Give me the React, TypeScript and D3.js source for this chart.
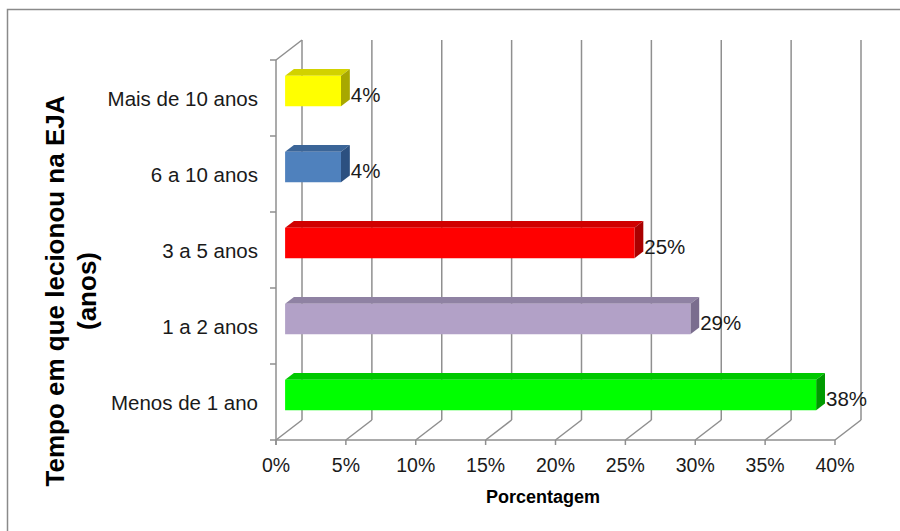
import React from "react";
import * as d3 from "d3";

// Tempo em que lecionou na EJA — distribuição percentual
const categories = ["Mais de 10 anos", "6 a 10 anos", "3 a 5 anos", "1 a 2 anos", "Menos de 1 ano"];
const values = [4, 4, 25, 29, 38];
const valueLabels = ["4%", "4%", "25%", "29%", "38%"];
const tickValues = [0, 5, 10, 15, 20, 25, 30, 35, 40];
const tickLabels = ["0%", "5%", "10%", "15%", "20%", "25%", "30%", "35%", "40%"];

// front / top / side shades for each bar
const barColors = [
  { front: "#FFFF00", top: "#D2D200", side: "#A8A800" },
  { front: "#4F81BD", top: "#3B6598", side: "#2C5080" },
  { front: "#FF0000", top: "#D00000", side: "#AA0000" },
  { front: "#B2A1C7", top: "#8F82A3", side: "#7A6D8E" },
  { front: "#00FF00", top: "#00C800", side: "#009A00" },
];

const W = 900;
const H = 531;
const FONT = "'Liberation Sans', Arial, sans-serif";

// 3D box layout: front plane of the plot and the depth offset to the back wall
const plotTop = 60;
const plotBottom = 440;
const depthX = 26;
const depthY = -20;
const barT0 = 0.35;
const barT1 = 0.69;

export default function App() {
  const x = d3.scaleLinear().domain([0, 40]).range([276, 835]);
  const y = d3
    .scaleBand<string>()
    .domain(categories)
    .range([plotTop, plotBottom])
    .paddingInner(0.6)
    .paddingOuter(0.3);

  const proj = (v: number, yy: number, t: number): [number, number] => [
    x(v) + depthX * t,
    yy + depthY * t,
  ];
  const pts = (arr: [number, number][]) => arr.map((p) => p.join(",")).join(" ");

  const gridColor = "#8f8f8f";
  const step = (plotBottom - plotTop) / categories.length;
  const slotEdges = d3.range(categories.length + 1).map((i) => plotTop + i * step);

  return (
    <svg
      width={W}
      height={H}
      style={{ position: "absolute", left: 0, top: 0, background: "#fff" }}
      fontFamily={FONT}
    >
      {/* outer frame */}
      <rect x={7.5} y={9.5} width={W + 20} height={H + 20} fill="none" stroke="#8a8a8a" strokeWidth={1.5} />

      {/* back wall gridlines and floor diagonals */}
      {tickValues.map((v) => {
        const [bx, byTop] = proj(v, plotTop, 1);
        const [, byBot] = proj(v, plotBottom, 1);
        return (
          <g key={v} stroke={gridColor} strokeWidth={1.5} fill="none">
            <line x1={bx} y1={byTop} x2={bx} y2={byBot} />
            <line x1={x(v)} y1={plotBottom} x2={bx} y2={byBot} />
          </g>
        );
      })}

      {/* left wall */}
      <g stroke={gridColor} strokeWidth={1.5} fill="none">
        <line x1={x(0)} y1={plotTop} x2={x(0)} y2={plotBottom + 5} />
        <line x1={x(0)} y1={plotTop} x2={proj(0, plotTop, 1)[0]} y2={proj(0, plotTop, 1)[1]} />
        <line x1={x(0)} y1={plotBottom} x2={x(40)} y2={plotBottom} />
        {slotEdges.map((e) => (
          <line key={e} x1={x(0) - 6} y1={e} x2={x(0)} y2={e} />
        ))}
        {tickValues.map((v) => (
          <line key={v} x1={x(v)} y1={plotBottom} x2={x(v)} y2={plotBottom + 5} />
        ))}
      </g>

      {/* bars */}
      {categories.map((c, i) => {
        const v = values[i];
        const y0 = y(c)!;
        const y1 = y0 + y.bandwidth();
        const col = barColors[i];
        const front = pts([proj(0, y0, barT0), proj(v, y0, barT0), proj(v, y1, barT0), proj(0, y1, barT0)]);
        const top = pts([proj(0, y0, barT0), proj(v, y0, barT0), proj(v, y0, barT1), proj(0, y0, barT1)]);
        const side = pts([proj(v, y0, barT0), proj(v, y0, barT1), proj(v, y1, barT1), proj(v, y1, barT0)]);
        const [lx] = proj(v, y0, barT1);
        const [, ly] = proj(v, (y0 + y1) / 2, barT0);
        return (
          <g key={c}>
            <polygon points={top} fill={col.top} />
            <polygon points={side} fill={col.side} />
            <polygon points={front} fill={col.front} />
            <text x={lx + 1} y={ly + 3} dominantBaseline="central" fontSize={20.5} fill="#1a1a1a">
              {valueLabels[i]}
            </text>
          </g>
        );
      })}

      {/* category labels */}
      {categories.map((c) => (
        <text
          key={c}
          x={258}
          y={y(c)! + y.bandwidth() / 2}
          textAnchor="end"
          dominantBaseline="central"
          fontSize={20.5}
          fill="#1a1a1a"
        >
          {c}
        </text>
      ))}

      {/* value axis tick labels */}
      {tickValues.map((v, i) => (
        <text key={v} x={x(v)} y={472} textAnchor="middle" fontSize={19.5} fill="#1a1a1a">
          {tickLabels[i]}
        </text>
      ))}

      {/* axis titles */}
      <text x={543} y={503} textAnchor="middle" fontSize={18} fontWeight="bold" fill="#000">
        Porcentagem
      </text>
      <g transform="translate(55,291) rotate(-90)">
        <text x={0} y={0} textAnchor="middle" dominantBaseline="central" fontSize={26} fontWeight="bold" fill="#000">
          Tempo em que lecionou na EJA
        </text>
        <text x={0} y={32} textAnchor="middle" dominantBaseline="central" fontSize={26} fontWeight="bold" fill="#000">
          (anos)
        </text>
      </g>
    </svg>
  );
}
